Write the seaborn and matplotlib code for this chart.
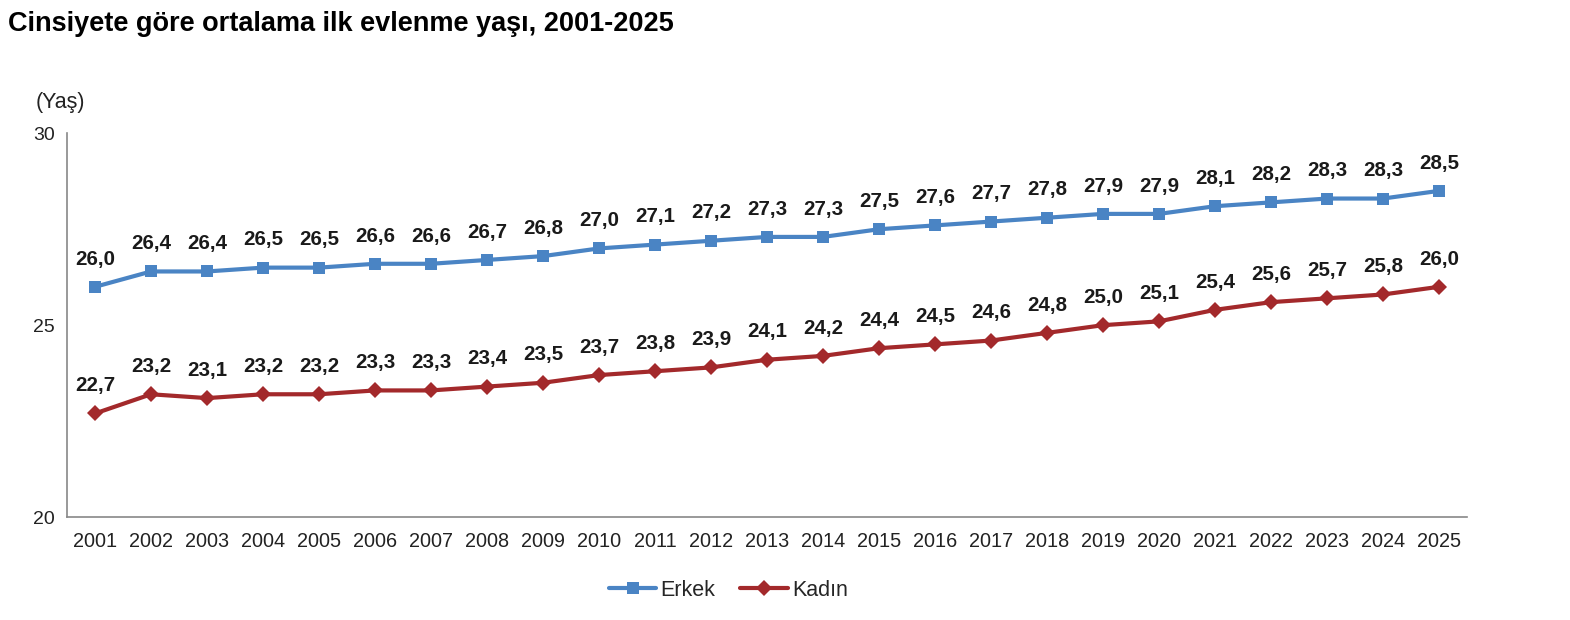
import matplotlib
matplotlib.use("Agg")
import matplotlib.pyplot as plt
import seaborn as sns
import pandas as pd
from matplotlib.ticker import FixedLocator
from matplotlib.lines import Line2D

years = list(range(2001, 2026))
erkek = [26.0, 26.4, 26.4, 26.5, 26.5, 26.6, 26.6, 26.7, 26.8, 27.0, 27.1, 27.2, 27.3,
         27.3, 27.5, 27.6, 27.7, 27.8, 27.9, 27.9, 28.1, 28.2, 28.3, 28.3, 28.5]
kadin = [22.7, 23.2, 23.1, 23.2, 23.2, 23.3, 23.3, 23.4, 23.5, 23.7, 23.8, 23.9, 24.1,
         24.2, 24.4, 24.5, 24.6, 24.8, 25.0, 25.1, 25.4, 25.6, 25.7, 25.8, 26.0]
series_names = ["Erkek", "Kadın"]
y_ticks = [20, 25, 30]

sns.set_theme(style="white")
plt.rcParams['font.family'] = ['Liberation Sans', 'DejaVu Sans']

df = pd.DataFrame({
    "pos": list(range(len(years))) * 2,
    "value": erkek + kadin,
    "series": [series_names[0]] * len(years) + [series_names[1]] * len(years),
})

colors = {"Erkek": "#4A84C4", "Kadın": "#A3292B"}

fig = plt.figure(figsize=(15.7, 6.2), dpi=100)
ax = fig.add_axes([0.0427, 0.166, 0.8917, 0.619])

sns.lineplot(data=df, x="pos", y="value", hue="series", style="series",
             markers={"Erkek": "s", "Kadın": "D"}, dashes=False,
             palette=colors, linewidth=3, markersize=8.5, markeredgewidth=0,
             ax=ax, legend=False)

for vals in (erkek, kadin):
    for i, v in enumerate(vals):
        ax.annotate(f"{v:.1f}".replace(".", ","), (i, v), xytext=(0, 20),
                    textcoords="offset points", ha="center", va="center",
                    fontsize=14.8, fontweight="bold", color="#1a1a1a")

ax.set_xlim(-0.5, len(years) - 0.5)
ax.set_ylim(20, 30)
ax.set_yticks(y_ticks)
ax.set_yticklabels([str(t) for t in y_ticks], fontsize=14, color="#222222")
ax.set_xticks(range(len(years)))
ax.set_xticklabels([str(y) for y in years], fontsize=14.3, color="#222222")
ax.xaxis.set_minor_locator(FixedLocator([i - 0.5 for i in range(len(years) + 1)]))
ax.tick_params(axis="x", which="major", length=0, pad=11)
ax.tick_params(axis="x", which="minor", length=6, width=1.2, color="#888888", direction="out")
ax.tick_params(axis="y", which="major", length=5, width=1.2, color="#888888", direction="out", pad=4)
ax.set_xlabel("")
ax.set_ylabel("")
for s in ["top", "right"]:
    ax.spines[s].set_visible(False)
for s in ["left", "bottom"]:
    ax.spines[s].set_color("#888888")
    ax.spines[s].set_linewidth(1.2)
ax.grid(False)

fig.text(0.005, 0.962, "Cinsiyete göre ortalama ilk evlenme yaşı, 2001-2025",
         fontsize=19.5, fontweight="bold", ha="left", va="center", color="black")
fig.text(0.023, 0.835, "(Yaş)", fontsize=15.5, ha="left", va="center", color="#222222")

handles = [Line2D([], [], color=colors["Erkek"], marker="s", lw=3, ms=8.5, mew=0),
           Line2D([], [], color=colors["Kadın"], marker="D", lw=3, ms=8.5, mew=0)]
fig.legend(handles, series_names, loc="center", bbox_to_anchor=(0.464, 0.048), ncol=2,
           frameon=False, fontsize=15.5, handlelength=2.2, handletextpad=0.2,
           columnspacing=1.15)

fig.savefig("out.png", dpi=100, facecolor="white")
